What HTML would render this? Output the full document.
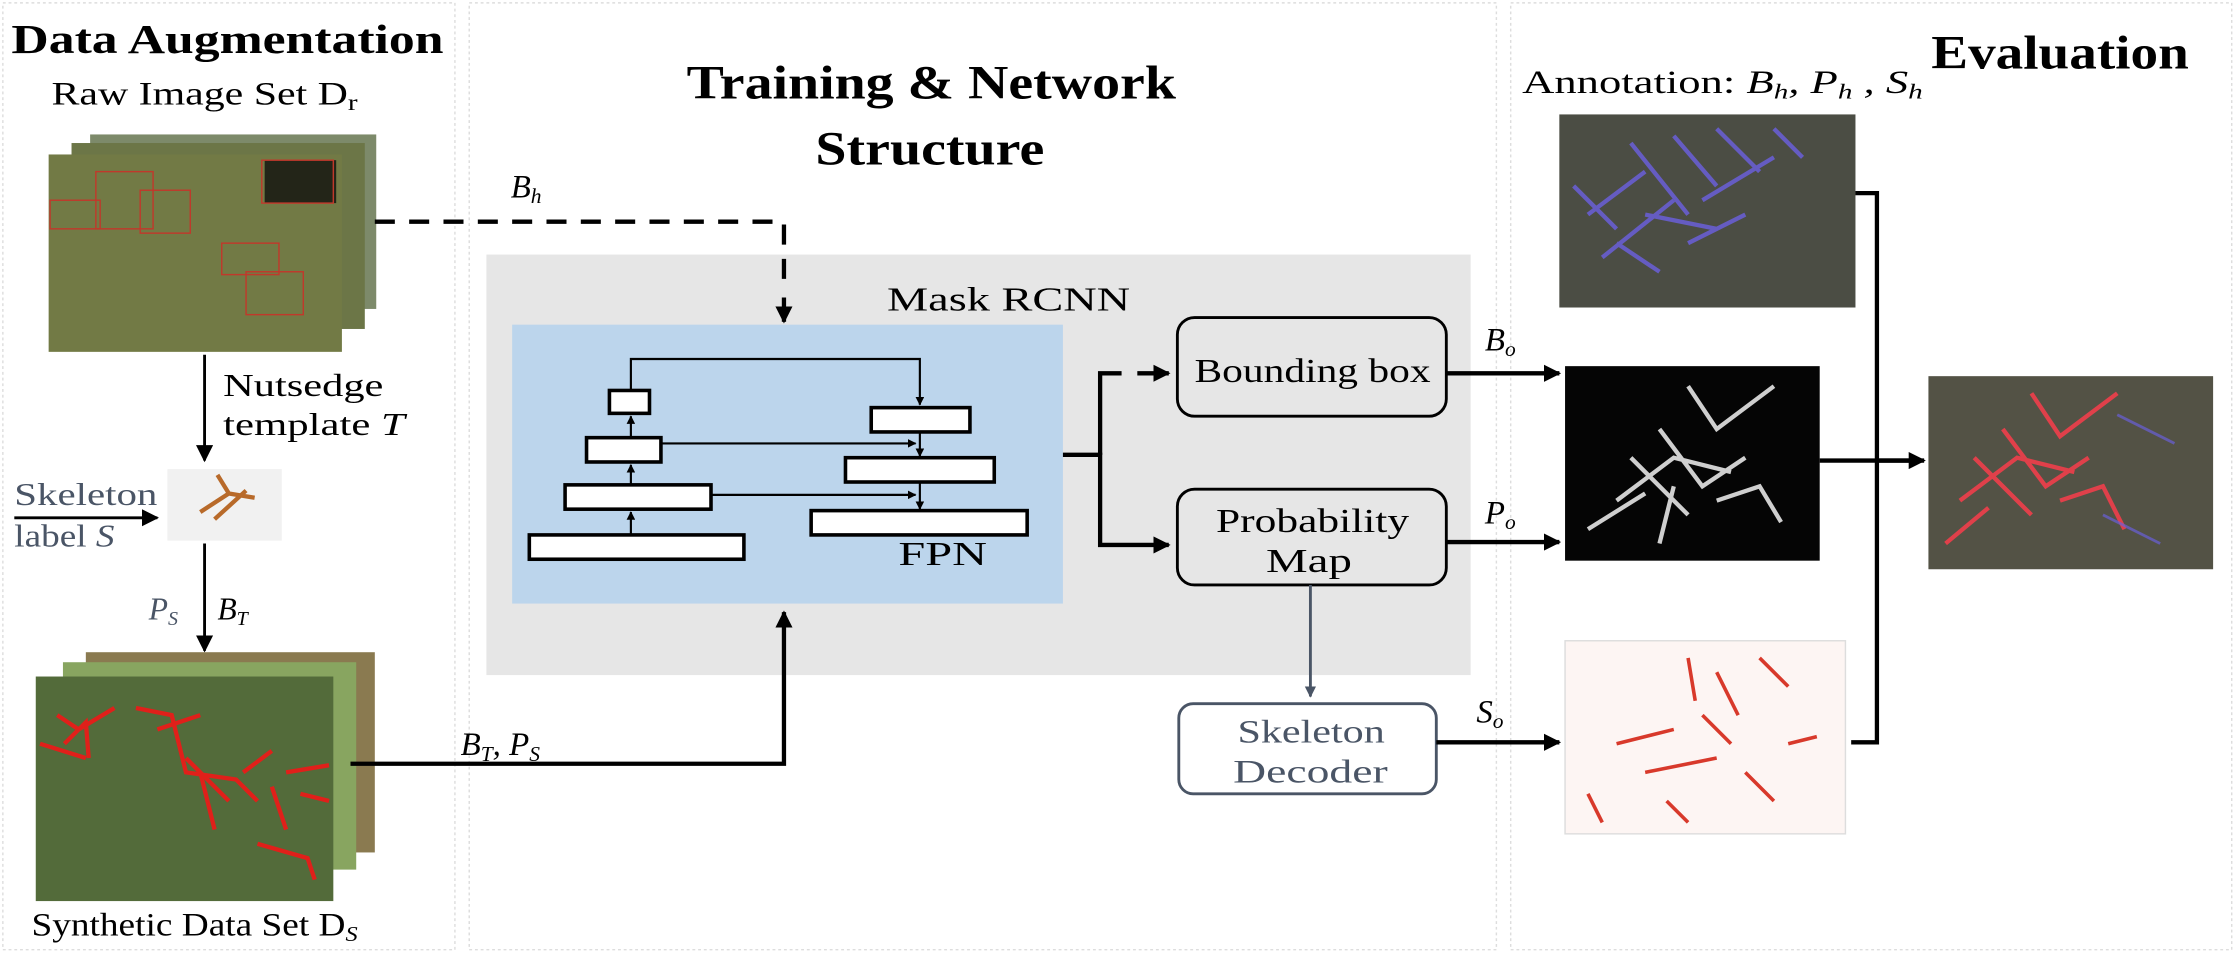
<!DOCTYPE html>
<html><head><meta charset="utf-8"><style>
html,body{margin:0;padding:0;background:#fff;}
svg{display:block;}
text{font-family:"Liberation Serif",serif;}
</style></head><body>
<svg width="2236" height="954" viewBox="0 0 1563 667" preserveAspectRatio="none" xmlns="http://www.w3.org/2000/svg">
<defs>
<marker id="ah" viewBox="0 0 10 10" refX="9" refY="5" markerWidth="4" markerHeight="4" orient="auto"><path d="M0,0L10,5L0,10z" fill="#000"/></marker>
<marker id="ahs" viewBox="0 0 10 10" refX="9" refY="5" markerWidth="6" markerHeight="6" orient="auto"><path d="M0,0L10,5L0,10z" fill="#000"/></marker>
<marker id="ahg" viewBox="0 0 10 10" refX="9" refY="5" markerWidth="4" markerHeight="4" orient="auto"><path d="M0,0L10,5L0,10z" fill="#4a5566"/></marker>
</defs>
<rect x="2" y="2" width="316" height="662" fill="none" stroke="#ddd" stroke-dasharray="2,2"/>
<rect x="328" y="2" width="718" height="662" fill="none" stroke="#ddd" stroke-dasharray="2,2"/>
<rect x="1056" y="2" width="504" height="662" fill="none" stroke="#ddd" stroke-dasharray="2,2"/>

<text x="8" y="37" font-size="29" font-weight="bold" textLength="302" lengthAdjust="spacingAndGlyphs">Data Augmentation</text>
<text x="36" y="73" font-size="23" textLength="214" lengthAdjust="spacingAndGlyphs">Raw Image Set D<tspan font-size="16" dy="4">r</tspan></text>
<text x="480" y="69" font-size="33" font-weight="bold" textLength="342" lengthAdjust="spacingAndGlyphs">Training &amp; Network</text>
<text x="570" y="115" font-size="33" font-weight="bold" textLength="160" lengthAdjust="spacingAndGlyphs">Structure</text>
<text x="1350" y="48" font-size="33" font-weight="bold" textLength="180" lengthAdjust="spacingAndGlyphs">Evaluation</text>
<text x="1064" y="65" font-size="23" textLength="280" lengthAdjust="spacingAndGlyphs">Annotation: <tspan font-style="italic">B<tspan font-size="15" dy="4">h</tspan><tspan dy="-4">, P</tspan><tspan font-size="15" dy="4">h</tspan><tspan dy="-4"> , S</tspan><tspan font-size="15" dy="4">h</tspan></tspan></text>

<rect x="63" y="94" width="200" height="122" fill="#7d8a6a"/>
<rect x="50" y="100" width="205" height="130" fill="#6c7647"/>
<rect x="34" y="108" width="205" height="138" fill="#727a45"/>
<rect x="185" y="112" width="50" height="30" fill="#232518"/>
<g fill="none" stroke="#c0392b" stroke-width="1">
<rect x="35" y="140" width="35" height="20"/><rect x="67" y="120" width="40" height="40"/><rect x="98" y="133" width="35" height="30"/>
<rect x="183" y="112" width="50" height="30"/><rect x="155" y="170" width="40" height="22"/><rect x="172" y="190" width="40" height="30"/>
</g>

<line x1="143" y1="248" x2="143" y2="322" stroke="#000" stroke-width="2" marker-end="url(#ahs)"/>
<text x="156" y="277" font-size="22" textLength="112" lengthAdjust="spacingAndGlyphs">Nutsedge</text>
<text x="156" y="304" font-size="22" textLength="127" lengthAdjust="spacingAndGlyphs">template <tspan font-style="italic">T</tspan></text>
<text x="10" y="353" font-size="22" fill="#4a5566" textLength="100" lengthAdjust="spacingAndGlyphs">Skeleton</text>
<text x="10" y="382" font-size="22" fill="#4a5566" textLength="70" lengthAdjust="spacingAndGlyphs">label <tspan font-style="italic">S</tspan></text>
<line x1="10" y1="362" x2="110" y2="362" stroke="#000" stroke-width="2" marker-end="url(#ahs)"/>
<rect x="117" y="328" width="80" height="50" fill="#f1f1f1"/>
<path d="M140 358 L160 345 M160 345 L178 348 M160 345 L152 332 M150 363 L172 343" stroke="#b86a2a" stroke-width="3" fill="none"/>
<line x1="143" y1="380" x2="143" y2="455" stroke="#000" stroke-width="2" marker-end="url(#ahs)"/>
<text x="104" y="433" font-size="22" font-style="italic" fill="#4a5566">P<tspan font-size="14" dy="4">S</tspan></text>
<text x="152" y="433" font-size="22" font-style="italic">B<tspan font-size="14" dy="4">T</tspan></text>

<rect x="60" y="456" width="202" height="140" fill="#8a7a50"/>
<rect x="44" y="463" width="205" height="145" fill="#88a560"/>
<rect x="25" y="473" width="208" height="157" fill="#536b3a"/>
<g stroke="#e0201a" stroke-width="3" fill="none">
<path d="M40 500 L55 510 L80 495 M45 520 L60 505 L62 530 M28 520 L60 530"/>
<path d="M95 495 L120 500 L130 540 L165 545 L180 560 M110 510 L140 500 M140 540 L150 580 M130 530 L160 560 M170 540 L190 525"/>
<path d="M200 540 L230 535 M190 550 L200 580 M210 555 L230 560 M180 590 L215 600 L220 615"/>
</g>
<text x="22" y="654" font-size="23" textLength="228" lengthAdjust="spacingAndGlyphs">Synthetic Data Set  D<tspan font-size="15" font-style="italic" dy="4">S</tspan></text>

<text x="357" y="138" font-size="23" font-style="italic">B<tspan font-size="15" dy="4">h</tspan></text>

<rect x="340" y="178" width="688" height="294" fill="#e6e6e6"/>
<path d="M262 155 L548 155 L548 205" fill="none" stroke="#000" stroke-width="3" stroke-dasharray="14,10"/>
<line x1="548" y1="208" x2="548" y2="225" stroke="#000" stroke-width="3" marker-end="url(#ah)"/>
<text x="620" y="217" font-size="24" textLength="170" lengthAdjust="spacingAndGlyphs">Mask RCNN</text>
<rect x="358" y="227" width="385" height="195" fill="#bcd5ec"/>
<text x="628" y="395" font-size="24" textLength="62" lengthAdjust="spacingAndGlyphs">FPN</text>
<g fill="#fff" stroke="#000" stroke-width="2.5">
<rect x="426" y="273" width="28" height="16"/>
<rect x="410" y="306" width="52" height="17"/>
<rect x="395" y="339" width="102" height="17"/>
<rect x="370" y="374" width="150" height="17"/>
<rect x="609" y="285" width="69" height="17"/>
<rect x="591" y="320" width="104" height="17"/>
<rect x="567" y="357" width="151" height="17"/>
</g>
<g stroke="#000" stroke-width="1.5" fill="none">
<path d="M441 273 L441 251 L643 251 L643 283" marker-end="url(#ah)"/>
<line x1="441" y1="306" x2="441" y2="291" marker-end="url(#ah)"/>
<line x1="441" y1="339" x2="441" y2="325" marker-end="url(#ah)"/>
<line x1="441" y1="374" x2="441" y2="358" marker-end="url(#ah)"/>
<line x1="462" y1="310" x2="640" y2="310" marker-end="url(#ah)"/>
<line x1="497" y1="346" x2="640" y2="346" marker-end="url(#ah)"/>
<line x1="643" y1="302" x2="643" y2="319" marker-end="url(#ah)"/>
<line x1="643" y1="337" x2="643" y2="356" marker-end="url(#ah)"/>
</g>
<path d="M743 318 L769 318 L769 381 L817 381" fill="none" stroke="#000" stroke-width="3" marker-end="url(#ah)"/>
<path d="M769 318 L769 261 L784 261 M795 261 L817 261" fill="none" stroke="#000" stroke-width="3" marker-end="url(#ah)"/>
<rect x="823" y="222" width="188" height="69" rx="12" fill="#e6e6e6" stroke="#000" stroke-width="2"/>
<text x="835" y="267" font-size="24" textLength="165" lengthAdjust="spacingAndGlyphs">Bounding box</text>
<rect x="823" y="342" width="188" height="67" rx="12" fill="#e6e6e6" stroke="#000" stroke-width="2"/>
<text x="850" y="372" font-size="24" textLength="135" lengthAdjust="spacingAndGlyphs">Probability</text>
<text x="885" y="400" font-size="24" textLength="60" lengthAdjust="spacingAndGlyphs">Map</text>
<line x1="916" y1="409" x2="916" y2="487" stroke="#4a5566" stroke-width="2" marker-end="url(#ahg)"/>
<rect x="824" y="492" width="180" height="63" rx="10" fill="#fff" stroke="#4a5566" stroke-width="2"/>
<text x="865" y="519" font-size="23" fill="#4a5566" textLength="103" lengthAdjust="spacingAndGlyphs">Skeleton</text>
<text x="862" y="547" font-size="23" fill="#4a5566" textLength="108" lengthAdjust="spacingAndGlyphs">Decoder</text>

<path d="M245 534 L548 534 L548 428" fill="none" stroke="#000" stroke-width="3" marker-end="url(#ah)"/>
<text x="322" y="528" font-size="23" font-style="italic">B<tspan font-size="15" dy="4">T</tspan><tspan dy="-4">, P</tspan><tspan font-size="15" dy="4">S</tspan></text>

<line x1="1011" y1="261" x2="1090" y2="261" stroke="#000" stroke-width="3" marker-end="url(#ah)"/>
<text x="1038" y="245" font-size="23" font-style="italic">B<tspan font-size="15" dy="4">o</tspan></text>
<line x1="1011" y1="379" x2="1090" y2="379" stroke="#000" stroke-width="3" marker-end="url(#ah)"/>
<text x="1038" y="366" font-size="23" font-style="italic">P<tspan font-size="15" dy="4">o</tspan></text>
<line x1="1004" y1="519" x2="1090" y2="519" stroke="#000" stroke-width="3" marker-end="url(#ah)"/>
<text x="1032" y="505" font-size="23" font-style="italic">S<tspan font-size="15" dy="4">o</tspan></text>

<rect x="1090" y="80" width="207" height="135" fill="#4b4d44"/>
<g stroke="#6a5fd8" stroke-width="3" fill="none" opacity="0.85">
<path d="M1110 150 L1150 120 M1120 180 L1170 140 M1140 100 L1180 150 M1170 95 L1200 130 M1190 140 L1240 110 M1200 90 L1230 120 M1240 90 L1260 110 M1130 170 L1160 190 M1150 150 L1200 160 M1180 170 L1220 150 M1100 130 L1130 160"/>
</g>
<rect x="1094" y="256" width="178" height="136" fill="#050505"/>
<g stroke="#cfcfcf" stroke-width="3" fill="none">
<path d="M1130 350 L1170 320 L1210 330 M1160 300 L1190 340 L1220 320 M1180 270 L1200 300 L1240 270 M1140 320 L1180 360 M1200 350 L1230 340 L1245 365 M1110 370 L1150 345 M1170 340 L1160 380"/>
</g>
<rect x="1094" y="448" width="196" height="135" fill="#fdf5f3" stroke="#ddd"/>
<g stroke="#d8392b" stroke-width="2.5" fill="none">
<path d="M1180 460 L1185 490 M1200 470 L1215 500 M1230 460 L1250 480 M1130 520 L1170 510 M1150 540 L1200 530 M1165 560 L1180 575 M1220 540 L1240 560 M1110 555 L1120 575 M1250 520 L1270 515 M1190 500 L1210 520"/>
</g>
<rect x="1348" y="263" width="199" height="135" fill="#535245"/>
<g stroke="#e0404a" stroke-width="3" fill="none">
<path d="M1370 350 L1410 320 L1450 330 M1400 300 L1430 340 L1460 320 M1420 275 L1440 305 L1480 275 M1380 320 L1420 360 M1440 350 L1470 340 L1485 370 M1360 380 L1390 355"/>
</g>
<g stroke="#6a5fd8" stroke-width="2" fill="none" opacity="0.7"><path d="M1480 290 L1520 310 M1470 360 L1510 380"/></g>

<g stroke="#000" stroke-width="3" fill="none">
<path d="M1297 135 L1312 135 L1312 519 L1294 519"/>
<path d="M1272 322 L1340 322"/>
</g>
<line x1="1312" y1="322" x2="1345" y2="322" stroke="#000" stroke-width="3" marker-end="url(#ah)"/>
</svg>
</body></html>
